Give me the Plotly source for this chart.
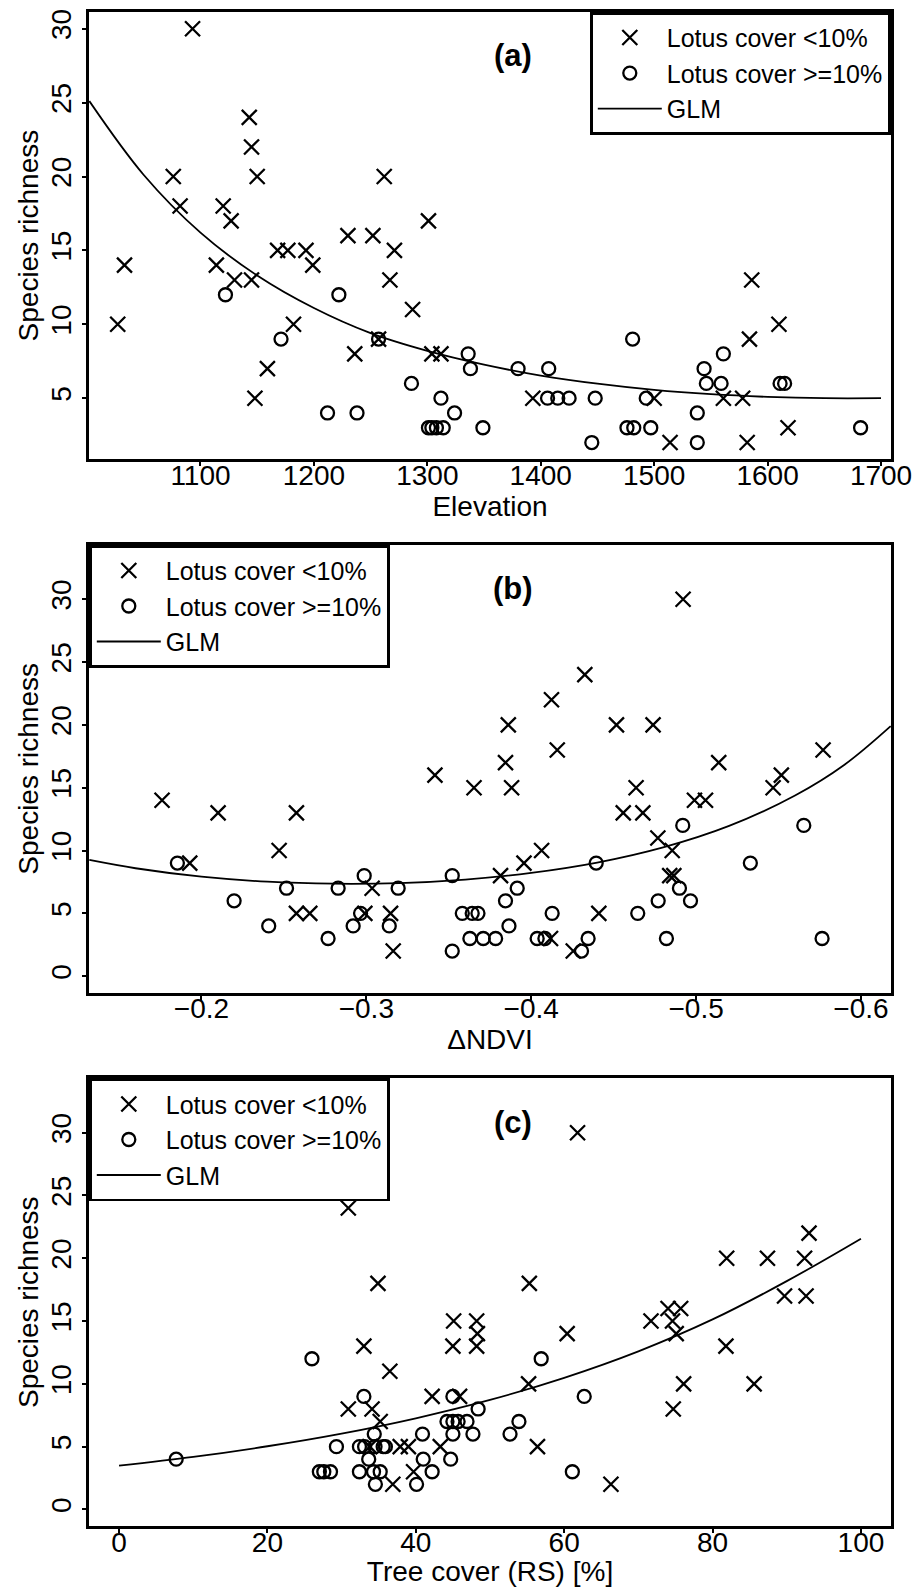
import plotly.graph_objects as go

FONT = "Liberation Sans, Arial, Helvetica, sans-serif"

# ---------------- Panel (a): Elevation ----------------
a_low_x = [1093, 1027, 1033, 1076, 1082, 1120, 1127, 1114, 1130, 1143, 1145, 1150, 1145, 1148,
           1159, 1182, 1168, 1177, 1193, 1199, 1230, 1236, 1252, 1257, 1262, 1271, 1267, 1287,
           1301, 1304, 1312, 1393, 1500, 1514, 1561, 1578, 1586, 1584, 1582, 1610, 1618]
a_low_y = [30, 10, 14, 20, 18, 18, 17, 14, 13, 24, 22, 20, 13, 5,
           7, 10, 15, 15, 15, 14, 16, 8, 16, 9, 20, 15, 13, 11,
           17, 8, 8, 5, 5, 2, 5, 5, 13, 9, 2, 10, 3]
a_high_x = [1122, 1171, 1212, 1222, 1238, 1257, 1286, 1312, 1301, 1304, 1308, 1314, 1324, 1336,
            1338, 1349, 1380, 1407, 1406, 1415, 1425, 1448, 1445, 1481, 1476, 1482, 1497, 1493,
            1538, 1538, 1544, 1546, 1561, 1559, 1611, 1615, 1682]
a_high_y = [12, 9, 4, 12, 4, 9, 6, 5, 3, 3, 3, 3, 4, 8,
            7, 3, 7, 7, 5, 5, 5, 5, 2, 9, 3, 3, 3, 5,
            4, 2, 7, 6, 8, 6, 6, 6, 3]
a_glm_x = [1002, 1050, 1100, 1150, 1200, 1250, 1300, 1350, 1400, 1450, 1500, 1550, 1600, 1650, 1700]
a_glm_y = [25.1, 20.1, 16.2, 13.3, 11.1, 9.4, 8.2, 7.27, 6.53, 5.98, 5.56, 5.27, 5.09, 5.0, 5.0]

# ---------------- Panel (b): delta NDVI ----------------
b_low_x = [-0.1761, -0.1929, -0.2101, -0.2471, -0.2576, -0.2576, -0.2657, -0.2991, -0.3035, -0.3147,
           -0.3163, -0.3416, -0.3653, -0.3814, -0.3844, -0.3861, -0.3881, -0.3956, -0.4063, -0.4117,
           -0.4123, -0.4158, -0.4255, -0.4325, -0.4410, -0.4517, -0.4558, -0.4677, -0.4636, -0.4739,
           -0.4768, -0.4855, -0.4840, -0.4865, -0.4921, -0.4990, -0.5057, -0.5137, -0.5467, -0.5517,
           -0.5770]
b_low_y = [14, 9, 13, 10, 13, 5, 5, 5, 7, 5,
           2, 16, 15, 8, 17, 20, 15, 9, 10, 3,
           22, 18, 2, 24, 5, 20, 13, 13, 15, 20,
           11, 10, 8, 8, 30, 14, 14, 17, 15, 16,
           18]
b_high_x = [-0.1854, -0.2198, -0.2408, -0.2516, -0.2768, -0.2829, -0.2920, -0.2965, -0.2987, -0.3139,
            -0.3193, -0.3521, -0.3521, -0.3582, -0.3642, -0.3677, -0.3628, -0.3709, -0.3784, -0.3844,
            -0.3865, -0.3915, -0.4036, -0.4083, -0.4127, -0.4305, -0.4345, -0.4394, -0.4646, -0.4770,
            -0.4820, -0.4899, -0.4919, -0.4966, -0.5329, -0.5653, -0.5764]
b_high_y = [9, 6, 4, 7, 3, 7, 4, 5, 8, 4,
            7, 8, 2, 5, 5, 5, 3, 3, 3, 6,
            4, 7, 3, 3, 5, 2, 3, 9, 5, 6,
            3, 7, 12, 6, 9, 12, 3]
b_glm_x = [-0.132, -0.16, -0.2, -0.24, -0.28, -0.32, -0.36, -0.4, -0.44, -0.48, -0.52, -0.56, -0.59, -0.618]
b_glm_y = [9.25, 8.59, 7.92, 7.52, 7.36, 7.41, 7.69, 8.22, 9.04, 10.25, 11.96, 14.38, 16.83, 19.9]

# ---------------- Panel (c): Tree cover ----------------
c_low_x = [30.9, 30.9, 33.0, 34.1, 34.9, 35.2, 36.5, 36.9, 33.8, 37.9, 39.0, 39.7, 42.2, 43.3,
           45.0, 45.1, 45.9, 48.2, 48.3, 48.2, 55.3, 55.2, 56.4, 60.4, 61.8, 66.3, 71.7, 74.0,
           75.7, 74.6, 75.1, 74.7, 76.1, 81.9, 81.8, 85.6, 87.4, 89.7, 92.4, 92.6, 93.0]
c_low_y = [24, 8, 13, 8, 18, 7, 11, 2, 5, 5, 5, 3, 9, 5,
           13, 15, 9, 15, 14, 13, 18, 10, 5, 14, 30, 2, 15, 16,
           16, 15, 14, 8, 10, 20, 13, 10, 20, 17, 20, 17, 22]
c_high_x = [7.7, 26.0, 27.0, 27.6, 28.5, 29.3, 32.4, 32.4, 33.0, 33.1, 33.65, 34.4, 34.3, 34.5,
            34.55, 35.2, 35.6, 35.9, 40.1, 40.9, 41.0, 42.2, 44.2, 44.7, 45.0, 45.0, 45.0, 45.7,
            46.9, 47.7, 48.4, 52.7, 53.9, 56.9, 61.1, 62.7]
c_high_y = [4, 12, 3, 3, 3, 5, 3, 5, 9, 5, 4, 6, 3, 5,
            2, 3, 5, 5, 2, 6, 4, 3, 7, 4, 9, 6, 7, 7,
            7, 6, 8, 6, 7, 12, 3, 9]
c_glm_x = [0, 10, 20, 30, 40, 50, 60, 70, 80, 90, 100]
c_glm_y = [3.48, 4.18, 5.03, 6.04, 7.26, 8.72, 10.48, 12.59, 15.13, 18.18, 21.56]

LOW_NAME = "Lotus cover <10%"
HIGH_NAME = "Lotus cover >=10%"
GLM_NAME = "GLM"

cross = dict(symbol="x-thin", size=15, color="black", line=dict(width=2.3, color="black"))
circle = dict(symbol="circle-open", size=13, color="black", line=dict(width=2.3, color="black"))

fig = go.Figure()
panels = [
    ("x", "y", "legend", a_low_x, a_low_y, a_high_x, a_high_y, a_glm_x, a_glm_y),
    ("x2", "y2", "legend2", b_low_x, b_low_y, b_high_x, b_high_y, b_glm_x, b_glm_y),
    ("x3", "y3", "legend3", c_low_x, c_low_y, c_high_x, c_high_y, c_glm_x, c_glm_y),
]
for xa, ya, lg, lx, ly, hx, hy, gx, gy in panels:
    fig.add_trace(go.Scatter(x=lx, y=ly, mode="markers", marker=cross, name=LOW_NAME,
                             xaxis=xa, yaxis=ya, legend=lg))
    fig.add_trace(go.Scatter(x=hx, y=hy, mode="markers", marker=circle, name=HIGH_NAME,
                             xaxis=xa, yaxis=ya, legend=lg))
    fig.add_trace(go.Scatter(x=gx, y=gy, mode="lines", line=dict(color="black", width=1.8, shape="spline"),
                             name=GLM_NAME, xaxis=xa, yaxis=ya, legend=lg))

axis_common = dict(showline=True, mirror=True, linecolor="black", linewidth=2.8,
                   ticks="outside", ticklen=4, tickwidth=2, tickcolor="black",
                   showgrid=False, zeroline=False, automargin=False,
                   tickfont=dict(size=28, family=FONT, color="black"),
                   title_font=dict(size=28, family=FONT, color="black"))
xaxis_extra = dict(ticklabelstandoff=-15)
yaxis_extra = dict(ticklabelstandoff=0, tickangle=-90)

yticks_a = [5, 10, 15, 20, 25, 30]
yticks_bc = [0, 5, 10, 15, 20, 25, 30]
xticks_a = [1100, 1200, 1300, 1400, 1500, 1600, 1700]
xticks_b = [-0.2, -0.3, -0.4, -0.5, -0.6]
xticks_c = [0, 20, 40, 60, 80, 100]

# plot area spans y = 12 .. 1526 px of the 1587 px page
dom_a = [0.7046, 1.0]
dom_b = [0.3522, 0.6480]
dom_c = [0.0, 0.2956]

legend_common = dict(bgcolor="white", bordercolor="black", borderwidth=2.8,
                     font=dict(size=25, family=FONT, color="black"),
                     itemwidth=64, tracegroupgap=0, traceorder="normal")

fig.update_layout(
    template="none",
    width=919, height=1587, autosize=False,
    margin=dict(l=89, r=28, t=12, b=61),
    paper_bgcolor="white", plot_bgcolor="white",
    font=dict(family=FONT, color="black"),
    showlegend=True,
    xaxis=dict(axis_common, **xaxis_extra, domain=[0, 1], anchor="y", range=[1001.7, 1708.8],
               tickvals=xticks_a, title=dict(text="Elevation", standoff=6)),
    yaxis=dict(axis_common, **yaxis_extra, domain=dom_a, anchor="x", range=[0.87, 31.13],
               tickvals=yticks_a, title=dict(text="Species richness", standoff=0)),
    xaxis2=dict(axis_common, **xaxis_extra, domain=[0, 1], anchor="y2", range=[-0.1318, -0.6182],
                tickvals=xticks_b, title=dict(text="ΔNDVI", standoff=6)),
    yaxis2=dict(axis_common, **yaxis_extra, domain=dom_b, anchor="x2", range=[-1.32, 34.32],
                tickvals=yticks_bc, title=dict(text="Species richness", standoff=0)),
    xaxis3=dict(axis_common, **xaxis_extra, domain=[0, 1], anchor="y3", range=[-4.05, 104.05],
                tickvals=xticks_c, title=dict(text="Tree cover (RS) [%]", standoff=6)),
    yaxis3=dict(axis_common, **yaxis_extra, domain=dom_c, anchor="x3", range=[-1.32, 34.32],
                tickvals=yticks_bc, title=dict(text="Species richness", standoff=0)),
    legend=dict(legend_common, x=1.0, y=1.0, xanchor="right", yanchor="top"),
    legend2=dict(legend_common, x=0.0, y=dom_b[1], xanchor="left", yanchor="top"),
    legend3=dict(legend_common, x=0.0, y=dom_c[1], xanchor="left", yanchor="top"),
)

for label, px_y in [("(a)", 55), ("(b)", 589), ("(c)", 1122)]:
    fig.add_annotation(text="<b>%s</b>" % label, xref="paper", yref="paper",
                       x=(513 - 89) / 802, y=(1526 - px_y) / 1514,
                       xanchor="center", yanchor="middle", showarrow=False,
                       font=dict(size=31, family=FONT, color="black"))

fig.write_html("out.html", config={"displayModeBar": False},
               post_script="document.body.style.margin='0';document.body.style.overflow='hidden';")
